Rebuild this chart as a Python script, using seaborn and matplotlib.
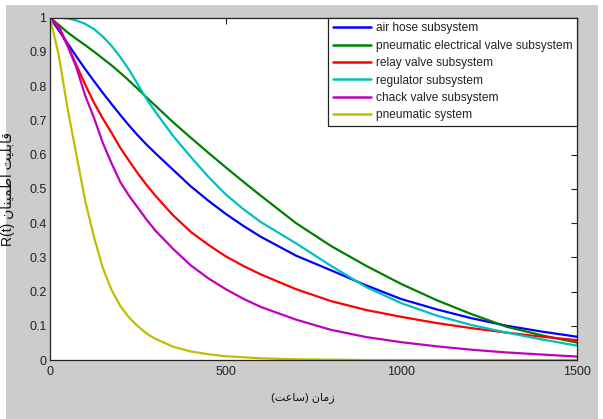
import numpy as np
import pandas as pd
import matplotlib
matplotlib.use("Agg")
import matplotlib.pyplot as plt
from matplotlib.patches import Rectangle
import seaborn as sns

# ---- data ----
t_hours = [0, 25, 50, 75, 100, 125, 150, 175, 200, 225, 250, 275, 300, 350, 400, 450, 500, 550,
           600, 700, 800, 900, 1000, 1100, 1200, 1300, 1400, 1500]
air_hose = [1.0, 0.963, 0.925, 0.887, 0.85, 0.815, 0.781, 0.748, 0.716, 0.685, 0.656, 0.629, 0.604,
            0.556, 0.508, 0.466, 0.427, 0.392,
            0.36, 0.305, 0.262, 0.218, 0.178, 0.148, 0.122, 0.100, 0.083, 0.068]
pneu_elec_valve = [1.0, 0.979, 0.957, 0.938, 0.92, 0.901, 0.881, 0.861, 0.839, 0.816, 0.792, 0.767, 0.743,
                   0.695, 0.65, 0.606, 0.563, 0.521,
                   0.48, 0.40, 0.333, 0.275, 0.222, 0.175, 0.134, 0.097, 0.072, 0.051]
relay_valve = [1.0, 0.975, 0.92, 0.862, 0.805, 0.752, 0.706, 0.664, 0.62, 0.582, 0.545, 0.511, 0.48,
               0.423, 0.375, 0.337, 0.303, 0.275,
               0.25, 0.207, 0.172, 0.146, 0.126, 0.108, 0.093, 0.08, 0.068, 0.058]
regulator = [1.0, 1.0, 0.998, 0.992, 0.982, 0.967, 0.945, 0.918, 0.885, 0.848, 0.805, 0.762, 0.725,
             0.655, 0.594, 0.536, 0.484, 0.441,
             0.403, 0.341, 0.275, 0.213, 0.166, 0.13, 0.102, 0.08, 0.06, 0.042]
chack_valve = [1.0, 0.97, 0.918, 0.855, 0.773, 0.708, 0.635, 0.575, 0.52, 0.48, 0.445, 0.41, 0.378,
               0.325, 0.277, 0.239, 0.207, 0.179,
               0.155, 0.118, 0.088, 0.067, 0.052, 0.04, 0.03, 0.022, 0.016, 0.01]
pneumatic_system = [1.0, 0.89, 0.735, 0.60, 0.466, 0.36, 0.27, 0.205, 0.158, 0.124, 0.099, 0.077, 0.062,
                    0.039, 0.025, 0.017, 0.011, 0.008,
                    0.005, 0.002, 0.001, 0.0, 0.0, 0.0, 0.0, 0.0, 0.0, 0.0]

series_names = ["air hose subsystem", "pneumatic electrical valve subsystem",
                "relay valve subsystem", "regulator subsystem",
                "chack valve subsystem", "pneumatic system"]
series_values = [air_hose, pneu_elec_valve, relay_valve, regulator, chack_valve, pneumatic_system]
colors = ["#0000ff", "#008000", "#ff0000", "#00bfbf", "#bf00bf", "#bfbf00"]

x_ticks = [0, 500, 1000, 1500]
y_ticks = [0, 0.1, 0.2, 0.3, 0.4, 0.5, 0.6, 0.7, 0.8, 0.9, 1]

# Persian labels (pre-shaped presentation forms, visual order)
w_reliab = "\uFE96\uFBFF\uFEE0\uFE91\uFE8E\uFED7"          # قابلیت
w_confid = "\uFEE5\uFE8E\uFEE8\uFBFF\uFEE4\uFEC3\uFE8D"    # اطمینان
w_time = "\uFEE5\uFE8E\uFEE3\uFEAF"                        # زمان
w_hour = "\uFE96\uFECB\uFE8E\uFEB3"                        # ساعت
ylabel_text = "R(t) " + w_confid + " " + w_reliab
xlabel_text = "(" + w_hour + ") " + w_time

rows = []
for name, vals in zip(series_names, series_values):
    for t, r in zip(t_hours, vals):
        rows.append((name, t, r))
df = pd.DataFrame(rows, columns=["series", "t", "R"])

sns.set_theme(style="white")
plt.rcParams["font.family"] = ["Liberation Sans", "DejaVu Sans"]

fig = plt.figure(figsize=(6.03, 4.19), dpi=100, facecolor="#cccccc")
# thin white margins like the screenshot
for rect in [(0, 0, 6 / 603, 1), (0, 1 - 5 / 419, 1, 5 / 419), (598 / 603, 0, 5 / 603, 1)]:
    fig.patches.append(Rectangle(rect[:2], rect[2], rect[3], transform=fig.transFigure,
                                 facecolor="white", edgecolor="none", zorder=-10))

ax = fig.add_axes([50 / 603, 1 - 360 / 419, 527 / 603, 342.3 / 419])
ax.set_facecolor("white")

sns.lineplot(data=df, x="t", y="R", hue="series", hue_order=series_names,
             palette=colors, linewidth=1.6, estimator=None, sort=True, ax=ax)

ax.set_xlim(0, 1500)
ax.set_ylim(0, 1)
ax.set_xticks(x_ticks)
ax.set_xticklabels([f"{v:g}" for v in x_ticks])
ax.set_yticks(y_ticks)
ax.set_yticklabels([f"{v:g}" for v in y_ticks])
ax.tick_params(direction="in", top=True, right=True, length=4, width=0.8,
               labelsize=9, colors="#222222", labelcolor="#222222")
ax.tick_params(axis="x", pad=4)
ax.tick_params(axis="y", pad=2.5)
for sp in ax.spines.values():
    sp.set_visible(True)
    sp.set_color("#222222")
    sp.set_linewidth(0.9)

ax.set_xlabel(xlabel_text, fontsize=8, color="#111111")
ax.set_ylabel(ylabel_text, fontsize=10, color="#111111")
ax.xaxis.set_label_coords(0.48, -0.093)
ax.yaxis.set_label_coords(-0.066, 0.5)

handles, labels = ax.get_legend_handles_labels()
leg = ax.legend(handles, labels, loc="upper right", borderaxespad=0, frameon=True,
                fancybox=False, edgecolor="#222222", framealpha=1, fontsize=8.6,
                handlelength=3.2, handletextpad=0.4, labelspacing=0.45, borderpad=0.4,
                title=None)
leg.get_frame().set_linewidth(0.9)
for line in leg.get_lines():
    line.set_linewidth(1.8)
for txt in leg.get_texts():
    txt.set_color("#222222")

fig.savefig("out.png", dpi=100, facecolor=fig.get_facecolor())
